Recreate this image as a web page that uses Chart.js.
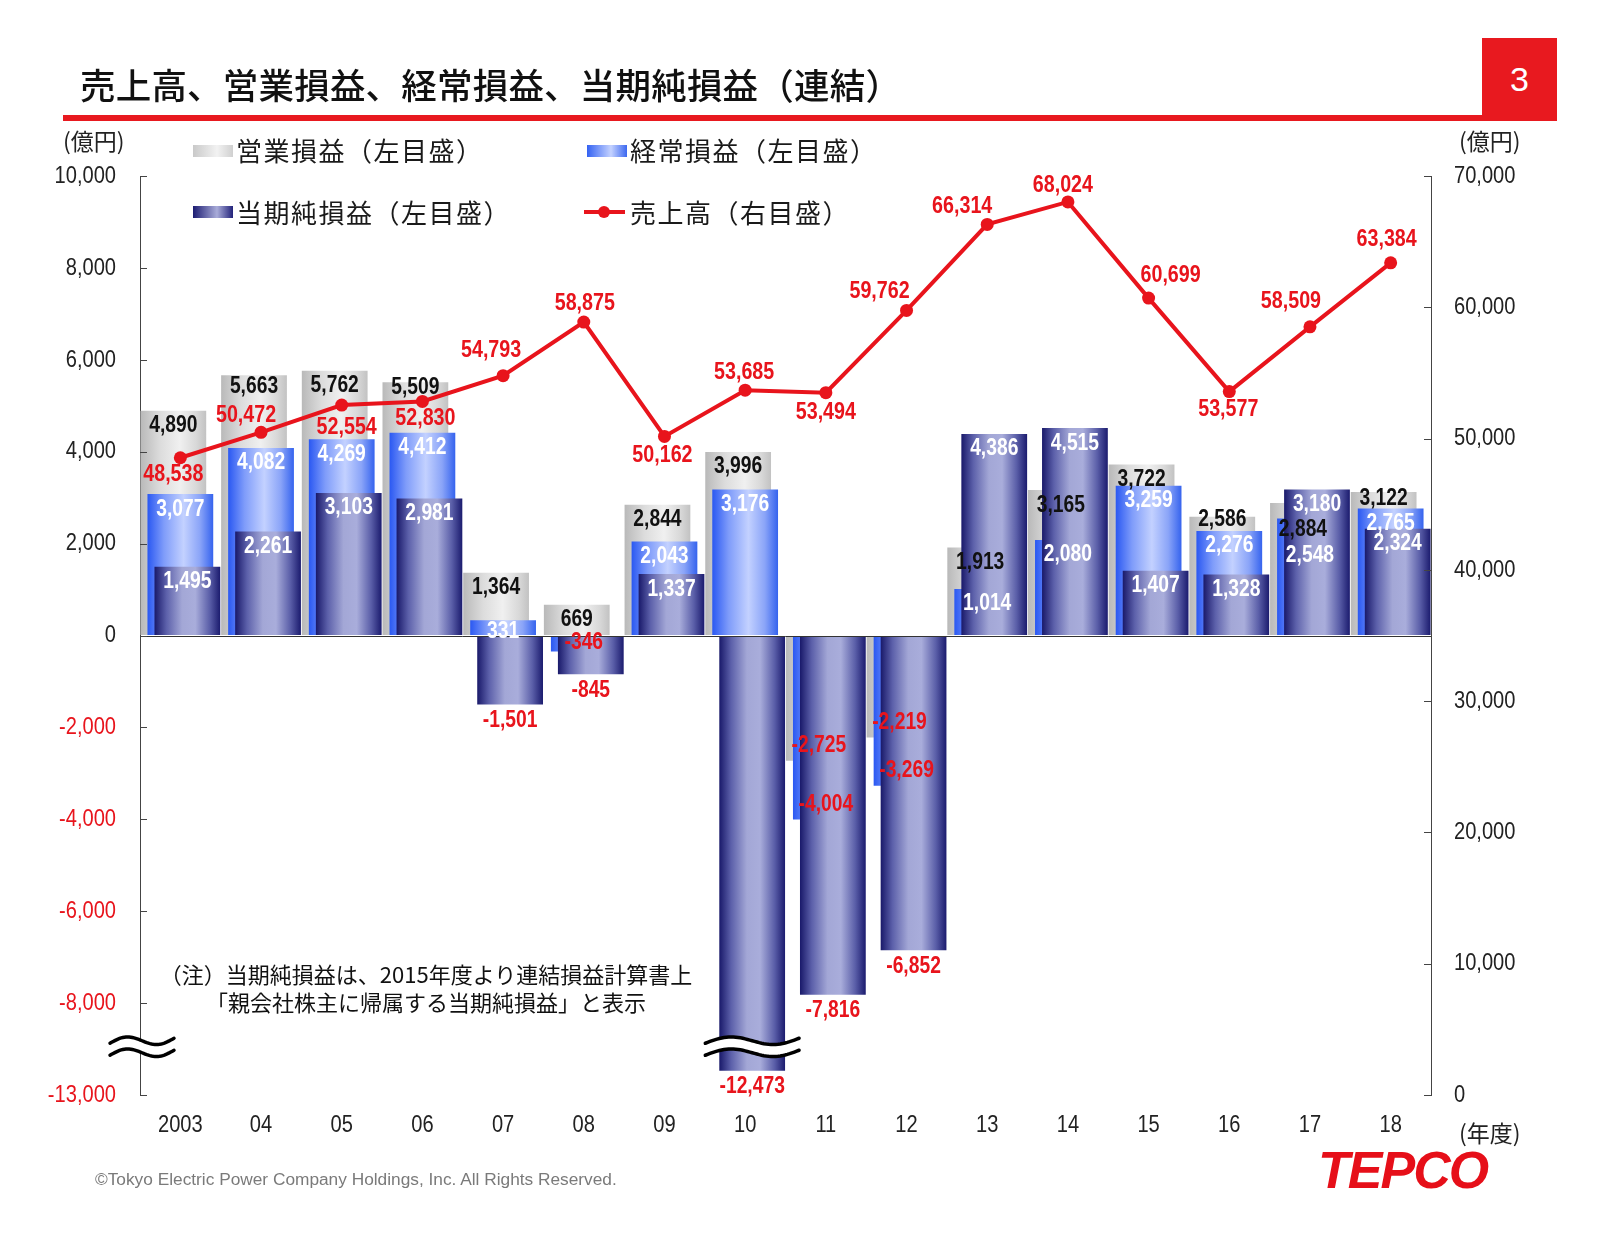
<!DOCTYPE html>
<html><head><meta charset="utf-8">
<script src="https://cdn.jsdelivr.net/npm/chart.js@4.4.1/dist/chart.umd.min.js"></script>
<style>
html,body{margin:0;padding:0;background:#fff}
body{width:1606px;height:1236px;position:relative;overflow:hidden;font-family:"Noto Sans CJK JP","Noto Sans",sans-serif;color:#1a1a1a}
#c{position:absolute;left:0;top:0}
.abs{position:absolute;white-space:nowrap;line-height:1}
.title{left:80px;top:66px;font-size:35.5px;font-weight:500;color:#111;letter-spacing:0.2px}
.rule{left:63px;top:115px;width:1420px;height:6px;background:#e8191f}
.pg{left:1482px;top:38px;width:75px;height:83px;background:#e8191f;color:#fff;font:34px "Liberation Sans",sans-serif;display:flex;align-items:center;justify-content:center}
.unit{font-size:23px;color:#222}
.lg{font-size:26px;color:#1a1a1a;letter-spacing:1.5px}
.sw{position:absolute;width:40px;height:12px}
.note{left:76px;width:700px;text-align:center;font-size:22px;color:#111}
.copy{left:95px;top:1169px;font:17.3px "Liberation Sans",sans-serif;color:#7a7a7a}
.logo{left:1318px;top:1140px;font:italic bold 52px "Liberation Sans",sans-serif;color:#e60f19;letter-spacing:-2px}
</style></head><body>
<canvas id="c" width="1606" height="1236"></canvas>
<div class="abs title">売上高、営業損益、経常損益、当期純損益（連結）</div>
<div class="abs rule"></div>
<div class="abs pg">3</div>
<div class="abs unit" style="left:63px;top:129px">(億円)</div>
<div class="abs unit" style="left:1459px;top:129px">(億円)</div>
<div class="abs unit" style="left:1459px;top:1121px">(年度)</div>

<div class="sw" style="left:193px;top:145px;background:linear-gradient(90deg,#c9c9c9,#f2f2f2 60%,#d0d0d0)"></div>
<div class="abs lg" style="left:236px;top:137px">営業損益（左目盛）</div>
<div class="sw" style="left:587px;top:145px;background:linear-gradient(90deg,#3462f2,#c4d2ff 60%,#3c68f0)"></div>
<div class="abs lg" style="left:630px;top:137px">経常損益（左目盛）</div>
<div class="sw" style="left:193px;top:206px;background:linear-gradient(90deg,#1c1c72,#a9acd9 60%,#22227a)"></div>
<div class="abs lg" style="left:236px;top:199px">当期純損益（左目盛）</div>
<div class="abs" style="left:584px;top:210px;width:41px;height:4px;background:#e8141c"></div>
<div class="abs" style="left:598px;top:206px;width:12px;height:12px;border-radius:50%;background:#e8141c"></div>
<div class="abs lg" style="left:630px;top:199px">売上高（右目盛）</div>

<div class="abs note" style="top:962px">（注）当期純損益は、2015年度より連結損益計算書上</div>
<div class="abs note" style="top:990px">「親会社株主に帰属する当期純損益」と表示</div>
<div class="abs copy">©Tokyo Electric Power Company Holdings, Inc. All Rights Reserved.</div>
<div class="abs logo">TEPCO</div>

<script>
// ---- data (億円) ----
const years = ['2003','04','05','06','07','08','09','10','11','12','13','14','15','16','17','18'];
const operatingProfit = [4890, 5663, 5762, 5509, 1364, 669, 2844, 3996, -2725, -2219, 1913, 3165, 3722, 2586, 2884, 3122];
const ordinaryProfit  = [3077, 4082, 4269, 4412, 331, -346, 2043, 3176, -4004, -3269, 1014, 2080, 3259, 2276, 2548, 2765];
const netProfit       = [1495, 2261, 3103, 2981, -1501, -845, 1337, -12473, -7816, -6852, 4386, 4515, 1407, 1328, 3180, 2324];
const sales           = [48538, 50472, 52554, 52830, 54793, 58875, 50162, 53685, 53494, 59762, 66314, 68024, 60699, 53577, 58509, 63384];
const leftAxis  = {min: -10000, max: 10000, step: 2000};
const rightAxis = {min: 0, max: 70000, step: 10000};

// axis break on the left scale: values beyond the break are drawn shifted up by BREAK_GAP
const AXIS_BREAK = -8950, BREAK_GAP = 3000;
const toAxis = v => (v < AXIS_BREAK - BREAK_GAP ? v + BREAK_GAP : v);
const fromAxis = v => (v < AXIS_BREAK ? v - BREAK_GAP : v);

// label placement (styling only)
const salesLabelOffsets = [[-7,17],[-15,-17],[5,22],[3,17],[-12,-25],[1,-19],[-2,19],[-1,-18],[0,20],[-27,-19],[-25,-18],[-5,-17],[22,-23],[-1,18],[-19,-25],[-4,-23]];
const labelNudge = {operating: {3:-10, 15:-9, 13:-12, 14:12, 1:-4}, ordinary: {14:22, 5:6, 4:-4}, net: {}};

const RED = '#e8141c';
const NUM_FAMILY = '"Liberation Sans",Arial,sans-serif';
const NARROW = 0.82;
const fmt = v => v.toLocaleString('en-US');
const BAR_PCT = 0.815, SHIFT = 0.087;

function narrowText(ctx, text, x, y, font, color, align){
  ctx.save();
  ctx.translate(x, y);
  ctx.scale(NARROW, 1);
  ctx.font = font; ctx.fillStyle = color;
  ctx.textAlign = align; ctx.textBaseline = 'middle';
  ctx.fillText(text, 0, 0);
  ctx.restore();
}

const stops = {
  operating: [[0,'#b9b9b9'],[0.3,'#dcdcdc'],[0.6,'#f0f0f0'],[0.85,'#d8d8d8'],[1,'#c2c2c2']],
  ordinary:  [[0,'#2a58f2'],[0.25,'#7f9cfa'],[0.55,'#c3d1ff'],[0.8,'#8aa4f8'],[1,'#3563ee']],
  net:       [[0,'#19196a'],[0.18,'#5c60aa'],[0.42,'#a3a7d6'],[0.62,'#a9addb'],[0.84,'#5a5ea8'],[1,'#1b1b6e']]
};
function grad(kind, shift){
  return function(ctx){
    const chart = ctx.chart;
    const st = stops[kind];
    if (ctx.type !== 'data' || !chart.chartArea) return st[2][1];
    const xs = chart.scales.x;
    const cw = xs.width / years.length;
    const cx = xs.getPixelForValue(ctx.dataIndex) + shift * cw;
    const w = cw * BAR_PCT;
    const g = chart.ctx.createLinearGradient(cx - w/2, 0, cx + w/2, 0);
    st.forEach(s => g.addColorStop(s[0], s[1]));
    return g;
  };
}

function drawBreak(ctx, x1, x2, yc){
  const N = 40, amp = 5, half = 6, lw = 3.5;
  const wave = (t, off) => yc + off - amp*Math.sin(2*Math.PI*t) + (0.5 - t)*5;
  ctx.save();
  ctx.beginPath();
  for (let i=0;i<=N;i++){const t=i/N; const x=x1+(x2-x1)*t; const y=wave(t,-half); i?ctx.lineTo(x,y):ctx.moveTo(x,y);}
  for (let i=N;i>=0;i--){const t=i/N; const x=x1+(x2-x1)*t; ctx.lineTo(x,wave(t,half));}
  ctx.closePath(); ctx.fillStyle='#fff'; ctx.fill();
  ctx.strokeStyle='#000'; ctx.lineWidth=lw; ctx.lineCap='round';
  [-half, half].forEach(off=>{
    ctx.beginPath();
    for (let i=0;i<=N;i++){const t=i/N; const x=x1+(x2-x1)*t; const y=wave(t,off); i?ctx.lineTo(x,y):ctx.moveTo(x,y);}
    ctx.stroke();
  });
  ctx.restore();
}

const shiftPlugin = {
  id: 'barShift',
  afterDatasetUpdate(chart, args){
    const ds = chart.data.datasets[args.index];
    if (!ds.shift) return;
    const xs = chart.scales.x;
    const cw = xs.width / years.length;
    args.meta.data.forEach(el => { el.x += ds.shift * cw; });
  }
};

// axis tick labels drawn from the library's scales, in a condensed face
const tickLabelPlugin = {
  id: 'tickLabels',
  afterDraw(chart){
    const ctx = chart.ctx, area = chart.chartArea;
    const font = '24.5px ' + NUM_FAMILY;
    const ys = chart.scales.y, y2 = chart.scales.y2, xs = chart.scales.x;
    ys.ticks.forEach(t => {
      const v = fromAxis(t.value);
      narrowText(ctx, fmt(v), area.left - 24, ys.getPixelForValue(t.value), font, v < 0 ? RED : '#222', 'right');
    });
    y2.ticks.forEach(t => {
      narrowText(ctx, fmt(t.value), area.right + 23, y2.getPixelForValue(t.value), font, '#222', 'left');
    });
    xs.ticks.forEach((t, i) => {
      narrowText(ctx, years[i], xs.getPixelForValue(i), area.bottom + 30, font, '#222', 'center');
    });
    // inward tick marks
    ctx.save(); ctx.strokeStyle = '#444'; ctx.lineWidth = 1;
    ys.ticks.forEach(t => {
      const y = Math.round(ys.getPixelForValue(t.value)) + 0.5;
      ctx.beginPath(); ctx.moveTo(area.left, y); ctx.lineTo(area.left + 7, y); ctx.stroke();
    });
    y2.ticks.forEach(t => {
      const y = Math.round(y2.getPixelForValue(t.value)) + 0.5;
      ctx.beginPath(); ctx.moveTo(area.right - 7, y); ctx.lineTo(area.right, y); ctx.stroke();
    });
    ctx.restore();
  }
};

const annotPlugin = {
  id: 'annot',
  beforeDatasetDraw(chart, args){
    if (args.meta.type !== 'line') return;
    const ctx = chart.ctx, ys = chart.scales.y, area = chart.chartArea;
    // zero line
    ctx.save();
    ctx.strokeStyle = '#333'; ctx.lineWidth = 1;
    const y0 = Math.round(ys.getPixelForValue(0)) + 0.5;
    ctx.beginPath(); ctx.moveTo(area.left, y0); ctx.lineTo(area.right, y0); ctx.stroke();
    ctx.restore();
    // axis break marks
    const yb = ys.getPixelForValue(AXIS_BREAK);
    drawBreak(ctx, area.left - 30, area.left + 34, yb);
    chart.data.datasets.forEach((ds, di) => {
      if (ds.type !== 'bar') return;
      const meta = chart.getDatasetMeta(di);
      ds.values.forEach((v, i) => {
        if (v < AXIS_BREAK - BREAK_GAP) {
          const el = meta.data[i];
          drawBreak(ctx, el.x - el.width/2 - 14, el.x + el.width/2 + 14, yb);
        }
      });
    });
    // bar value labels
    const font = 'bold 23.5px ' + NUM_FAMILY;
    ['operating','ordinary','net'].forEach(kind => {
      const di = chart.data.datasets.findIndex(d => d.kind === kind);
      const ds = chart.data.datasets[di];
      const meta = chart.getDatasetMeta(di);
      ds.values.forEach((v, i) => {
        const el = meta.data[i];
        let y, color;
        if (v >= 0) { y = el.y + 15; color = kind === 'operating' ? '#111' : '#fff'; }
        else if (kind === 'net') { y = el.y + 16; color = RED; }
        else { y = el.y - 15; color = RED; }
        y += (labelNudge[kind][i] || 0);
        narrowText(ctx, fmt(v), el.x, y, font, color, 'center');
      });
    });
  },
  afterDatasetsDraw(chart){
    const ctx = chart.ctx;
    const di = chart.data.datasets.findIndex(d => d.type === 'line');
    const meta = chart.getDatasetMeta(di);
    const font = 'bold 24px ' + NUM_FAMILY;
    sales.forEach((v, i) => {
      const el = meta.data[i];
      narrowText(ctx, fmt(v), el.x + salesLabelOffsets[i][0], el.y + salesLabelOffsets[i][1], font, RED, 'center');
    });
  }
};

new Chart(document.getElementById('c'), {
  data: {
    labels: years,
    datasets: [
      {type:'line', label:'売上高（右目盛）', data: sales, yAxisID:'y2', order:0,
       borderColor: RED, borderWidth: 4, pointRadius: 6.5, pointBackgroundColor: RED,
       pointBorderWidth: 0, tension: 0, clip: false},
      {type:'bar', kind:'net', label:'当期純損益（左目盛）', data: netProfit.map(toAxis), values: netProfit,
       yAxisID:'y', order:1, shift: SHIFT, grouped:false, categoryPercentage:1, barPercentage:BAR_PCT,
       backgroundColor: grad('net', SHIFT), borderWidth:0},
      {type:'bar', kind:'ordinary', label:'経常損益（左目盛）', data: ordinaryProfit.map(toAxis), values: ordinaryProfit,
       yAxisID:'y', order:2, shift: 0, grouped:false, categoryPercentage:1, barPercentage:BAR_PCT,
       backgroundColor: grad('ordinary', 0), borderWidth:0},
      {type:'bar', kind:'operating', label:'営業損益（左目盛）', data: operatingProfit.map(toAxis), values: operatingProfit,
       yAxisID:'y', order:3, shift: -SHIFT, grouped:false, categoryPercentage:1, barPercentage:BAR_PCT,
       backgroundColor: grad('operating', -SHIFT), borderWidth:0}
    ]
  },
  options: {
    responsive: false, animation: false, devicePixelRatio: 1,
    layout: {padding: {left: 0, right: 0, top: 176, bottom: 81}},
    plugins: {legend: {display: false}, tooltip: {enabled: false}},
    scales: {
      x: {
        type: 'category', offset: true,
        grid: {display: false}, border: {display: false},
        ticks: {display: false, autoSkip: false, maxRotation: 0},
        afterFit: s => { s.height = 60; }
      },
      y: {
        position: 'left', min: leftAxis.min, max: leftAxis.max,
        grid: {display: true, drawOnChartArea: false, drawTicks: false},
        border: {display: true, color: '#444', width: 1},
        ticks: {display: false, stepSize: leftAxis.step, callback: v => fmt(fromAxis(v))},
        afterFit: s => { s.width = 140; }
      },
      y2: {
        position: 'right', min: rightAxis.min, max: rightAxis.max,
        grid: {display: true, drawOnChartArea: false, drawTicks: false},
        border: {display: true, color: '#444', width: 1},
        ticks: {display: false, stepSize: rightAxis.step, callback: v => fmt(v)},
        afterFit: s => { s.width = 175; }
      }
    }
  },
  plugins: [shiftPlugin, annotPlugin, tickLabelPlugin]
});
</script>
</body></html>
